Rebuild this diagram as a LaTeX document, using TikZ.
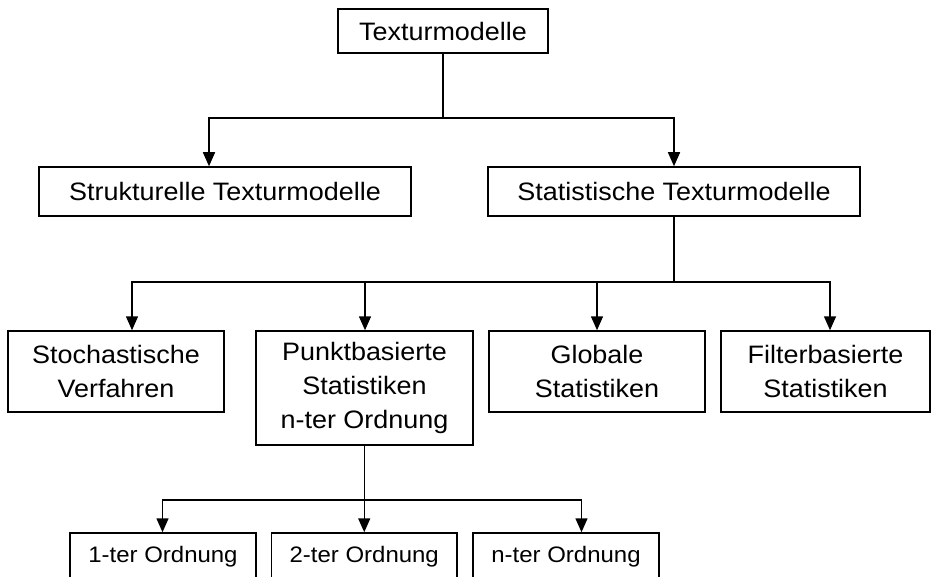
\documentclass[tikz,border=0pt]{standalone}
\usepackage{fontspec}
\setmainfont{Liberation Sans}[FakeStretch=1.07]
\usetikzlibrary{arrows.meta}
\begin{document}
\begin{tikzpicture}[x=1pt,y=-1pt,
 box/.style={draw=black, line width=1.5pt, fill=white, inner sep=0pt, align=center, text=black, font=\fontsize{25.2}{34}\selectfont},
 smallbox/.style={box, font=\fontsize{22.4}{30}\selectfont},
 con/.style={line width=1.5pt, draw=black},
 arr/.style={con, -{Triangle[length=14pt,width=12pt]}}]
\fill[white] (0,0) rectangle (931,577);
\useasboundingbox (0,0) rectangle (931,577);
\begin{scope}
\clip (0,0) rectangle (931,577);
% nodes
\node[box, minimum width=210pt, minimum height=44pt] (top) at (443,31) {Texturmodelle};
\node[box, minimum width=372pt, minimum height=49pt] (struk) at (225,191.5) {Strukturelle Texturmodelle};
\node[box, minimum width=372pt, minimum height=49pt] (stat) at (674,191.5) {Statistische Texturmodelle};
\node[box, minimum width=216pt, minimum height=81pt] (stoch) at (116,371.5) {Stochastische\\Verfahren};
\node[box, minimum width=217pt, minimum height=114pt] (punkt) at (364.5,388) {Punktbasierte\\Statistiken\\n-ter Ordnung};
\node[box, minimum width=216pt, minimum height=81pt] (glob) at (597,371.5) {Globale\\Statistiken};
\node[box, minimum width=209pt, minimum height=81pt] (filt) at (825.5,371.5) {Filterbasierte\\Statistiken};
\node[smallbox, minimum width=186pt, minimum height=48pt] (o1) at (163,557) {1-ter Ordnung};
\node[smallbox, minimum width=185.5pt, minimum height=48pt] (o2) at (364.25,557) {2-ter Ordnung};
\node[smallbox, minimum width=186pt, minimum height=48pt] (o3) at (566,557) {n-ter Ordnung};
% helper coordinates
\coordinate (j1) at (0,118);
\coordinate (j2) at (0,282);
\coordinate (j3) at (0,500);
\coordinate (xa) at (209,0);
\coordinate (xb) at (132,0);
\coordinate (xc) at (365,0);
\coordinate (xd) at (830,0);
\coordinate (xe) at (162.5,0);
\coordinate (xf) at (581.5,0);
% connectors level 1
\draw[con] (top.south) -- (top.south |- j1);
\draw[arr] (top.south |- j1) -| (xa |- struk.north);
\draw[arr] (top.south |- j1) -| (stat.north);
% level 2
\draw[con] (stat.south) -- (stat.south |- j2);
\draw[arr] (stat.south |- j2) -| (xb |- stoch.north);
\draw[arr] (stat.south |- j2) -| (xc |- punkt.north);
\draw[arr] (stat.south |- j2) -| (glob.north);
\draw[arr] (stat.south |- j2) -| (xd |- filt.north);
% level 3
\draw[con] (punkt.south) -- (punkt.south |- j3);
\draw[arr] (punkt.south |- j3) -| (xe |- o1.north);
\draw[arr] (punkt.south |- j3) -| (o2.north);
\draw[arr] (punkt.south |- j3) -| (xf |- o3.north);
\end{scope}
\end{tikzpicture}
\end{document}
